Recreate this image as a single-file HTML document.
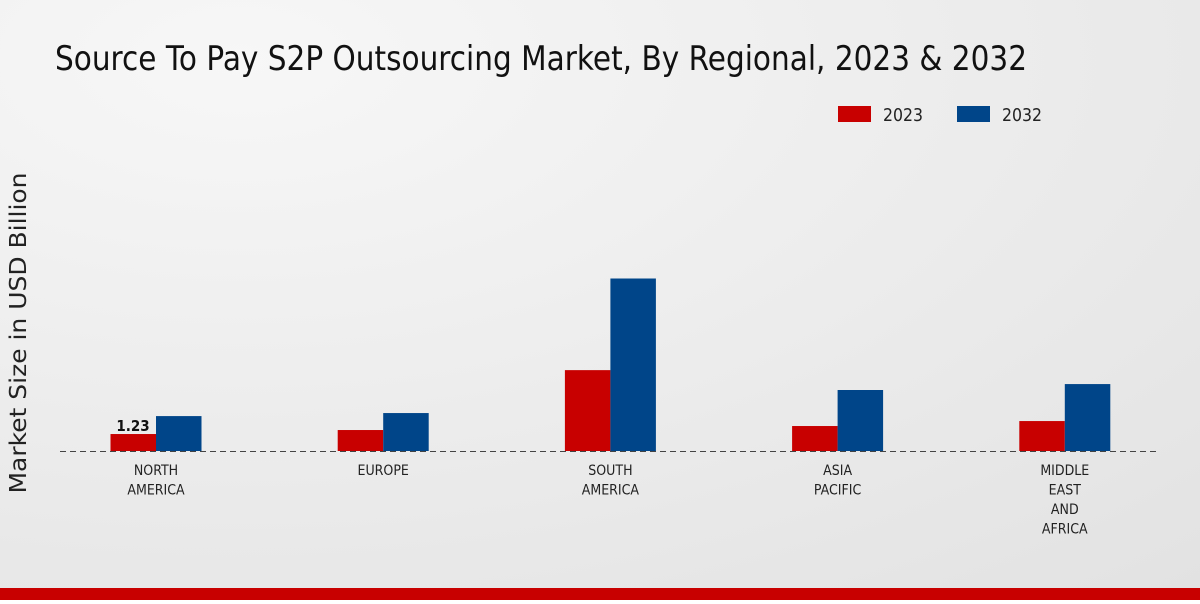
<!DOCTYPE html>
<html><head><meta charset="utf-8"><style>
body{margin:0;width:1200px;height:600px;overflow:hidden;font-family:"DejaVu Sans","Liberation Sans",sans-serif}
.cd{font-family:"DejaVu Sans Condensed","DejaVu Sans",sans-serif;font-stretch:condensed}
</style></head><body>
<svg id="c" width="1200" height="600" xmlns="http://www.w3.org/2000/svg">
<defs><radialGradient id="bg" cx="0.2" cy="0.1" r="1.2"><stop offset="0" stop-color="#f7f7f7"/><stop offset="1" stop-color="#e2e2e2"/></radialGradient></defs>
<rect width="1200" height="600" fill="url(#bg)"/>
<text x="55" y="70" font-size="34" textLength="972" lengthAdjust="spacingAndGlyphs" fill="#111">Source To Pay S2P Outsourcing Market, By Regional, 2023 &amp; 2032</text>
<g>
<rect x="838" y="106" width="33" height="16" fill="#c80000"/>
<text class="cd" x="883" y="121" font-size="18" textLength="40" lengthAdjust="spacingAndGlyphs" fill="#222">2023</text>
<rect x="957" y="106" width="33" height="16" fill="#004589"/>
<text class="cd" x="1002" y="121" font-size="18" textLength="40" lengthAdjust="spacingAndGlyphs" fill="#222">2032</text>
</g>
<text transform="translate(26,333) rotate(-90)" text-anchor="middle" font-size="23" textLength="321" lengthAdjust="spacingAndGlyphs" fill="#222">Market Size in USD Billion</text>
<line x1="60" y1="451.5" x2="1160" y2="451.5" stroke="#444" stroke-dasharray="6,4"/>
<g id="bars"></g>
<rect x="0" y="588" width="1200" height="12" fill="#c80000"/>
</svg>
<script>
const categories=[["NORTH","AMERICA"],["EUROPE"],["SOUTH","AMERICA"],["ASIA","PACIFIC"],["MIDDLE","EAST","AND","AFRICA"]];
const values2023=[1.23,1.52,5.86,1.81,2.17];
const values2032=[2.53,2.75,12.5,4.42,4.85];
const base=451, pxPerUnit=13.8;
function y(v){return base-v*pxPerUnit;}
function cx(i){return 156+i*227.2;}
const g=document.getElementById('bars');const NS="http://www.w3.org/2000/svg";
function bar(x,v,col,name){const r=document.createElementNS(NS,'rect');r.setAttribute('x',x);r.setAttribute('y',y(v));r.setAttribute('width',45.5);r.setAttribute('height',base-y(v));r.setAttribute('fill',col);


g.appendChild(r);}
categories.forEach((c,i)=>{
bar(cx(i)-45.5,values2023[i],'#c80000','bar-2023-'+i);
bar(cx(i),values2032[i],'#004589','bar-2032-'+i);
c.forEach((l,j)=>{const t=document.createElementNS(NS,'text');t.setAttribute('x',cx(i));t.setAttribute('y',475+j*19.5);t.setAttribute('text-anchor','middle');t.setAttribute('font-size','14');t.setAttribute('fill','#222');t.setAttribute('class','cd');t.textContent=l;


g.appendChild(t);});
});
const lab=document.createElementNS(NS,'text');lab.setAttribute('x',cx(0)-23);lab.setAttribute('y',y(values2023[0])-3);lab.setAttribute('text-anchor','middle');lab.setAttribute('font-size','15');lab.setAttribute('font-weight','bold');lab.setAttribute('fill','#111');lab.setAttribute('class','cd');lab.textContent=values2023[0];


g.appendChild(lab);
</script>
</body></html>
